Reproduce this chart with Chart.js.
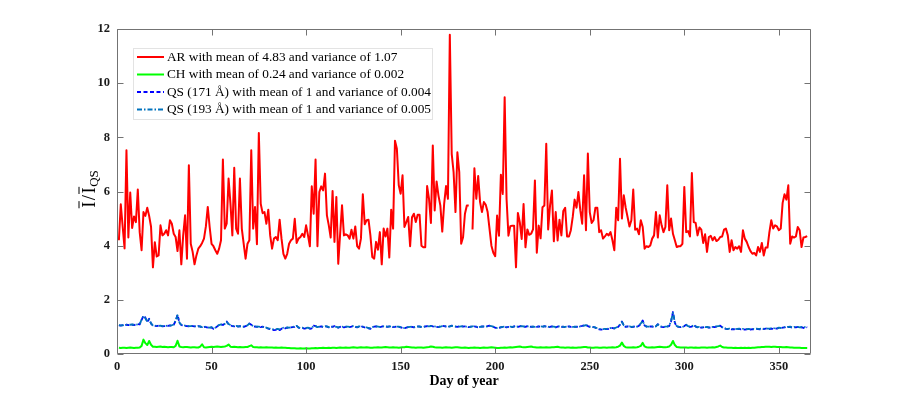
<!DOCTYPE html>
<html>
<head>
<meta charset="utf-8">
<script src="https://cdn.jsdelivr.net/npm/chart.js@4/dist/chart.umd.min.js"></script>
<style>
  html, body { margin: 0; padding: 0; background: #ffffff; }
  canvas { display: block; }
</style>
</head>
<body>
<canvas id="c" width="897" height="397"></canvas>
<script>
// ---------------- DATA ----------------
const seriesLabels = [
  'AR with mean of 4.83 and variance of 1.07',
  'CH with mean of 0.24 and variance of 0.002',
  'QS (171 \u00C5) with mean of 1 and variance of 0.004',
  'QS (193 \u00C5) with mean of 1 and variance of 0.005'
];
const xTickValues = [0, 50, 100, 150, 200, 250, 300, 350];
const yTickValues = [0, 2, 4, 6, 8, 10, 12];
const xAxisTitle = 'Day of year';

const arValues = [
  4.2, 5.53, 4.7, 3.9, 7.52, 4.3, 5.96, 4.65, 5.08, 4.87,
  6.07, 4.5, 3.83, 5.24, 5.1, 5.4, 5.1, 4.7, 3.2, 4.13,
  3.6, 3.64, 4.75, 4.38, 4.44, 4.57, 4.38, 4.94, 4.81, 4.44,
  4.32, 3.8, 4.57, 3.31, 4.38, 5.12, 3.52, 6.97, 4.07, 3.77,
  3.31, 3.64, 3.89, 3.98, 4.1, 4.26, 4.71, 5.43, 4.69, 4.07,
  3.98, 3.83, 3.7, 3.89, 4.2, 7.18, 4.63, 4.81, 6.48, 5.55,
  4.38, 6.88, 4.63, 4.44, 6.48, 4.63, 4.07, 3.52, 4.07, 4.2,
  7.52, 4.63, 5.43, 4.05, 8.16, 5.55, 5.2, 5.24,
  4.81, 5.33, 4.38, 3.89, 4.26, 4.32, 4.2, 4.96, 4.26, 3.7,
  3.52, 3.7, 4.07, 4.2, 4.26, 4.99, 4.1, 4.26, 4.32, 4.44,
  4.32, 4.75, 4.38, 3.98, 6.19, 5.18, 7.18, 3.98, 5.98, 6.19,
  6.04, 6.66, 5.12, 4.75, 4.3, 6.02, 4.14, 5.8, 3.33, 4.44,
  5.49, 4.38, 4.42, 4.38, 4.26, 4.59, 4.26, 4.71, 3.98, 3.89,
  4.26, 5.9, 4.79, 4.94, 4.96, 4.38, 3.58, 3.52, 4.14, 3.85,
  4.5, 3.31, 4.63, 4.34, 4.63, 3.56, 5.33, 4.63, 7.87, 7.58,
  6.23, 5.92, 6.6, 4.69, 4.87, 5.06,
  3.98, 5.05, 5.18, 4.87, 5.14, 5.14, 4.0, 3.94, 3.94, 6.2,
  5.73, 4.84, 7.7, 5.3, 6.37, 5.85, 5.48, 4.52, 5.54, 6.2,
  5.73, 11.79, 7.39, 6.71, 5.24, 7.45, 6.71, 4.07, 4.31, 5.18,
  5.48, 5.48, null, 4.6, 6.86, 5.73, 6.57, 5.61, 5.24, 5.61,
  5.51, 5.24, 4.62, 4.0, 3.74, 3.61, 5.11, 4.37, 6.62, 5.91,
  9.48, 5.73, 4.37, 4.72, 4.74, 4.74, 3.2, 5.21, 4.87, 4.25,
  5.54, 3.94, 4.6, 4.4, 4.44, 4.6, 6.41, 3.74, 4.74, 4.27,
  5.42, 5.48, 7.76, 4.6, 5.48, 6.04, 4.16, 5.24, 4.19,
  4.96, 4.38, 5.28, 5.4, 4.34, 4.34, 4.57, 5.06, 5.7, 5.4,
  5.98, 5.31, 4.81, 6.6, 4.57, 7.4, 5.24, 4.84, 4.94, 5.4,
  5.4, 4.5, 4.57, 4.26, 4.34, 4.44, 4.38, 4.5, 4.2, 3.83,
  5.4, 4.94, 7.21, 5.0, 5.86, 5.4, 5.06, 4.71, 4.94, 6.07,
  4.59, 4.63, 4.42, 4.94, 4.69, 3.89, 3.98, 3.95, 4.01, 4.26,
  4.38, 5.24, 4.3, 5.12, 4.75, 4.5, 4.69, 6.23, 4.57, 5.0,
  4.44, 4.2, 3.95, 3.98, 3.98, 4.07, 6.17, 4.5, 4.54, 4.34,
  6.68, 4.87, 4.84, 4.38, 4.67, 4.59, 4.1, 4.42, 3.77,
  4.32, 4.36, 4.2, 4.32, 4.17, 4.22, 4.32, 4.34, 4.59, 4.63,
  4.38, 3.77, 4.2, 3.83, 3.95, 3.89, 3.98, 3.77, 4.57, 4.26,
  4.14, 3.95, 3.8, 3.7, 3.73, 3.64, 3.95, 3.77, 4.1, 3.64,
  3.93, 3.93, 4.5, 4.94, 4.63, 4.75, 4.71, 4.57, 4.63, 5.58,
  5.9, 5.7, 6.23, 4.07, 4.34, 4.3, 4.34, 4.69, 4.57, 3.95,
  4.3, 4.32, 4.35
];

const chValues = [
  0.23,0.22,0.23,0.23,0.22,0.23,0.24,0.23,0.22,0.23,
  0.23,0.24,0.30,0.53,0.40,0.33,0.48,0.34,0.27,0.27,
  0.26,0.27,0.28,0.26,0.27,0.26,0.25,0.26,0.26,0.25,
  0.30,0.49,0.28,0.26,0.25,0.26,0.26,0.25,0.24,0.25,
  0.25,0.24,0.24,0.27,0.36,0.25,0.24,0.25,0.26,0.27,
  0.26,0.27,0.28,0.27,0.26,0.27,0.28,0.30,0.35,0.27,
  0.26,0.27,0.26,0.25,0.26,0.25,0.25,0.26,0.26,0.29,
  0.32,0.26,0.25,0.25,0.24,0.25,0.24,0.24,0.25,0.24,
  0.24,0.24,0.23,0.24,0.23,0.23,0.24,0.23,0.23,0.22,
  0.22,0.21,0.21,0.21,0.20,0.20,0.21,0.20,0.20,0.21,
  0.20,0.20,0.21,0.21,0.22,0.21,0.22,0.22,0.23,0.22,
  0.22,0.23,0.22,0.23,0.23,0.22,0.23,0.24,0.23,0.23,
  0.24,0.23,0.23,0.24,0.25,0.24,0.23,0.24,0.25,0.24,
  0.24,0.25,0.24,0.23,0.23,0.24,0.24,0.25,0.24,0.24,
  0.25,0.26,0.25,0.24,0.24,0.25,0.24,0.24,0.23,0.24,
  0.25,0.25,0.27,0.26,0.25,0.24,0.24,0.23,0.24,0.24,
  0.24,0.23,0.24,0.25,0.26,0.28,0.27,0.25,0.24,0.24,
  0.24,0.23,0.24,0.25,0.24,0.24,0.23,0.24,0.25,0.25,
  0.24,0.23,0.23,0.24,0.23,0.22,0.23,0.23,0.24,0.23,
  0.23,0.22,0.23,0.24,0.23,0.23,0.24,0.25,0.24,0.23,
  0.22,0.22,0.23,0.23,0.24,0.23,0.24,0.25,0.24,0.25,
  0.26,0.27,0.28,0.26,0.25,0.25,0.26,0.27,0.28,0.26,
  0.25,0.24,0.24,0.25,0.24,0.24,0.25,0.24,0.24,0.25,
  0.25,0.26,0.27,0.25,0.24,0.24,0.23,0.24,0.24,0.23,
  0.24,0.23,0.23,0.24,0.24,0.25,0.26,0.26,0.24,0.24,
  0.23,0.23,0.24,0.24,0.23,0.23,0.24,0.24,0.23,0.24,
  0.24,0.25,0.24,0.25,0.27,0.31,0.42,0.30,0.25,0.24,
  0.24,0.24,0.25,0.24,0.25,0.27,0.30,0.41,0.28,0.25,
  0.24,0.24,0.25,0.24,0.25,0.26,0.27,0.26,0.25,0.25,
  0.26,0.28,0.34,0.48,0.33,0.26,0.25,0.24,0.24,0.24,
  0.24,0.23,0.24,0.24,0.23,0.24,0.23,0.23,0.24,0.24,
  0.24,0.23,0.24,0.24,0.25,0.24,0.26,0.28,0.31,0.26,
  0.24,0.24,0.23,0.23,0.23,0.22,0.23,0.22,0.22,0.23,
  0.22,0.23,0.22,0.23,0.22,0.23,0.23,0.24,0.25,0.25,
  0.26,0.26,0.27,0.27,0.27,0.26,0.27,0.27,0.26,0.26,
  0.26,0.25,0.25,0.26,0.25,0.24,0.24,0.23,0.23,0.23,
  0.23,0.22,0.22,0.22,0.22
];

const qs171Values = [
  1.06,1.05,1.07,1.06,1.08,1.07,1.09,1.08,1.07,1.09,
  1.10,1.09,1.25,1.42,1.34,1.18,1.30,1.12,1.05,1.04,
  1.03,1.05,1.04,1.02,1.03,1.05,1.04,1.06,1.05,1.08,
  1.22,1.45,1.15,1.07,1.05,1.04,1.03,1.02,1.04,1.03,
  1.02,1.00,1.03,1.01,0.98,1.00,0.99,0.97,0.96,0.98,
  0.93,0.96,1.02,1.08,1.10,1.07,1.12,1.20,1.10,1.06,
  1.03,1.02,1.05,1.01,1.03,1.02,1.00,1.03,1.05,1.13,
  1.08,1.02,1.01,1.00,1.02,0.99,1.01,0.98,0.96,0.94,
  0.92,0.90,0.88,0.89,0.91,0.88,0.93,0.97,0.95,0.97,
  0.96,0.98,0.99,1.00,1.05,0.97,0.95,0.96,0.94,0.95,
  0.97,0.93,0.95,1.05,1.03,0.98,1.00,1.02,0.99,1.03,
  1.01,0.98,1.02,1.00,1.03,0.99,0.97,1.00,1.02,0.98,
  1.00,1.02,0.99,1.01,1.04,1.00,0.98,1.01,1.03,1.00,
  0.98,0.97,0.95,0.93,0.99,1.01,1.02,1.00,0.99,1.01,
  1.03,1.01,1.00,1.02,1.01,0.99,1.00,1.02,1.00,0.98,
  0.96,0.95,0.97,0.99,1.01,1.00,0.98,1.00,1.02,1.01,
  0.99,1.00,1.02,1.03,1.01,1.04,1.02,1.01,1.00,0.99,
  1.02,1.04,1.03,1.01,1.00,1.02,1.05,1.03,1.01,1.00,
  1.02,1.03,1.01,1.02,1.00,0.99,1.01,1.03,1.02,1.00,
  0.98,1.00,1.02,1.01,1.00,1.03,1.05,1.02,1.00,0.97,
  0.95,0.96,0.98,1.00,1.02,0.98,1.00,1.01,0.99,1.02,
  1.03,1.00,1.02,1.04,1.01,1.00,1.03,1.02,1.00,1.01,
  0.99,1.00,1.02,1.01,1.00,1.03,1.01,0.99,1.00,1.02,
  1.00,0.98,1.01,1.02,1.00,1.01,0.99,1.00,1.02,1.00,
  0.99,1.01,1.00,1.02,1.03,1.04,1.06,1.08,1.03,1.00,
  1.01,0.99,0.97,0.93,0.91,0.90,0.91,0.92,0.92,0.93,
  0.95,0.96,0.94,0.97,1.00,1.08,1.20,1.05,1.00,1.02,
  1.01,0.99,1.00,1.02,1.00,1.04,1.12,1.24,1.05,1.01,
  1.00,1.02,1.01,1.00,1.03,1.10,1.02,1.00,0.99,1.00,
  1.01,1.03,1.20,1.55,1.15,1.02,1.00,0.99,1.01,1.03,
  1.08,1.02,1.00,1.01,1.08,1.01,0.98,0.99,0.97,0.98,
  1.00,0.99,0.97,0.98,1.00,0.99,1.01,1.03,1.05,0.98,
  0.95,0.93,0.92,0.93,0.91,0.92,0.90,0.92,0.93,0.91,
  0.92,0.90,0.91,0.92,0.90,0.92,0.91,0.93,0.92,0.91,
  0.93,0.92,0.94,0.93,0.92,0.94,0.93,0.95,0.94,0.96,
  0.95,0.97,0.98,1.00,0.99,1.00,0.97,0.99,0.98,1.00,
  0.97,0.99,0.96,1.00,0.98
];

const qs193Values = [
  1.07,1.06,1.06,1.07,1.08,1.08,1.08,1.09,1.08,1.08,
  1.09,1.10,1.27,1.40,1.32,1.20,1.28,1.13,1.06,1.05,
  1.04,1.04,1.05,1.03,1.04,1.04,1.05,1.05,1.06,1.09,
  1.24,1.43,1.16,1.08,1.06,1.05,1.04,1.03,1.03,1.04,
  1.03,1.01,1.02,1.02,0.99,1.01,1.00,0.98,0.97,0.99,
  0.95,0.97,1.03,1.07,1.09,1.08,1.11,1.18,1.11,1.07,
  1.04,1.03,1.04,1.02,1.02,1.03,1.01,1.02,1.06,1.12,
  1.07,1.03,1.02,1.01,1.01,1.00,1.00,0.99,0.97,0.95,
  0.94,0.92,0.91,0.92,0.93,0.91,0.94,0.97,0.96,0.98,
  0.97,0.98,1.00,1.01,1.04,0.98,0.96,0.97,0.95,0.96,
  0.97,0.95,0.96,1.04,1.03,0.99,1.01,1.02,1.00,1.02,
  1.02,0.99,1.01,1.01,1.02,1.00,0.98,1.01,1.01,0.99,
  1.01,1.01,1.00,1.02,1.03,1.01,0.99,1.02,1.02,1.01,
  0.99,0.98,0.96,0.95,0.99,1.00,1.02,1.01,1.00,1.01,
  1.02,1.02,1.01,1.01,1.02,1.00,1.01,1.01,1.01,0.99,
  0.97,0.96,0.98,0.99,1.00,1.01,0.99,1.01,1.01,1.02,
  1.00,1.01,1.01,1.03,1.02,1.03,1.03,1.02,1.01,1.00,
  1.01,1.03,1.04,1.02,1.01,1.02,1.04,1.03,1.02,1.01,
  1.01,1.02,1.02,1.01,1.01,1.00,1.00,1.02,1.03,1.01,
  0.99,1.00,1.01,1.02,1.01,1.02,1.04,1.03,1.01,0.98,
  0.96,0.97,0.99,1.00,1.01,0.99,1.01,1.01,1.00,1.01,
  1.02,1.01,1.02,1.03,1.02,1.01,1.02,1.02,1.01,1.01,
  1.00,1.01,1.01,1.02,1.01,1.02,1.02,1.00,1.01,1.01,
  1.01,0.99,1.00,1.02,1.01,1.00,1.00,1.01,1.01,1.01,
  1.00,1.00,1.01,1.01,1.02,1.04,1.05,1.07,1.04,1.01,
  1.00,0.99,0.98,0.95,0.93,0.92,0.92,0.93,0.93,0.94,
  0.96,0.96,0.95,0.98,1.01,1.09,1.18,1.06,1.01,1.01,
  1.02,1.00,1.01,1.01,1.01,1.05,1.13,1.22,1.06,1.02,
  1.01,1.01,1.02,1.01,1.02,1.09,1.03,1.01,1.00,1.01,
  1.02,1.04,1.22,1.52,1.17,1.03,1.01,1.00,1.00,1.02,
  1.07,1.03,1.01,1.02,1.07,1.02,0.99,1.00,0.98,0.99,
  0.99,1.00,0.98,0.99,1.00,1.00,1.02,1.03,1.04,0.99,
  0.96,0.94,0.93,0.94,0.93,0.93,0.92,0.93,0.94,0.92,
  0.93,0.92,0.92,0.93,0.92,0.93,0.92,0.94,0.93,0.93,
  0.94,0.93,0.95,0.94,0.94,0.95,0.94,0.96,0.95,0.97,
  0.96,0.97,0.99,1.00,1.00,1.01,0.98,1.00,0.99,1.00,
  0.98,0.99,0.97,1.00,0.99
];

// day numbers for each sample (1..365)
const days = arValues.map((_, i) => i + 1);

// ---------------- CHART ----------------
const SERIF = '"Liberation Serif", "Times New Roman", serif';
const toPoints = (vals) => vals.map((v, i) => ({ x: days[i], y: v }));

const matlabAxes = {
  id: 'matlabAxes',
  afterDatasetsDraw(chart) {
    const ctx = chart.ctx;
    const a = chart.chartArea;
    const xs = chart.scales.x, ys = chart.scales.y;
    const L = Math.round(a.left) + 0.5, R = Math.round(a.right) - 0.5;
    const T = Math.round(a.top) + 0.5, B = Math.round(a.bottom) - 0.5;
    ctx.save();
    ctx.strokeStyle = '#737373';
    ctx.lineWidth = 1;
    ctx.beginPath();
    ctx.rect(L, T, R - L, B - T);
    ctx.stroke();
    const tl = 6;
    ctx.beginPath();
    xTickValues.forEach(v => {
      const px = Math.round(xs.getPixelForValue(v)) + 0.5;
      ctx.moveTo(px, B); ctx.lineTo(px, B - tl);
      ctx.moveTo(px, T); ctx.lineTo(px, T + tl);
    });
    yTickValues.forEach(v => {
      const py = Math.round(ys.getPixelForValue(v)) + 0.5;
      ctx.moveTo(L, py); ctx.lineTo(L + tl, py);
      ctx.moveTo(R, py); ctx.lineTo(R - tl, py);
    });
    ctx.stroke();
    ctx.restore();
  },
  afterDraw(chart) {
    const ctx = chart.ctx;
    const a = chart.chartArea;
    ctx.save();
    // ---- legend ----
    const bx = 133.5, by = 48.5, bw = 299, bh = 71;
    ctx.fillStyle = '#ffffff';
    ctx.fillRect(bx, by, bw, bh);
    ctx.strokeStyle = '#e3e3e3';
    ctx.lineWidth = 1;
    ctx.strokeRect(bx, by, bw, bh);
    const rowY = [57, 74.5, 92, 109.5];
    ctx.font = '13.3px ' + SERIF;
    ctx.textBaseline = 'middle';
    ctx.textAlign = 'left';
    chart.data.datasets.forEach((ds, i) => {
      const y = rowY[i];
      ctx.save();
      ctx.strokeStyle = ds.borderColor;
      ctx.lineWidth = ds.borderWidth;
      ctx.setLineDash(ds.borderDash || []);
      ctx.beginPath();
      ctx.moveTo(137, y);
      ctx.lineTo(164, y);
      ctx.stroke();
      ctx.restore();
      ctx.fillStyle = '#000000';
      ctx.fillText(ds.label, 167, y + 0.5);
    });
    // ---- x title ----
    ctx.font = 'bold 14px ' + SERIF;
    ctx.fillStyle = '#000000';
    ctx.textAlign = 'center';
    ctx.textBaseline = 'middle';
    ctx.fillText(xAxisTitle, (a.left + a.right) / 2, 381);
    // ---- y title:  Ī / Ī_QS ----
    ctx.translate(88, 189);
    ctx.rotate(-Math.PI / 2);
    const fBig = '18.5px ' + SERIF, fSmall = '13px ' + SERIF;
    ctx.font = fBig;
    const wI = ctx.measureText('I').width;
    const wSl = ctx.measureText('/').width;
    ctx.font = fSmall;
    const wQS = ctx.measureText('QS').width;
    const total = wI + 1.5 + wSl + 1.5 + wI + 0.5 + wQS;
    let x0 = -total / 2;
    const base = 6.5;
    ctx.textAlign = 'left';
    ctx.textBaseline = 'alphabetic';
    ctx.fillStyle = '#000000';
    ctx.strokeStyle = '#000000';
    ctx.lineWidth = 1;
    ctx.font = fBig;
    const drawBarI = (x) => {
      ctx.fillText('I', x, base);
      ctx.beginPath();
      ctx.moveTo(x - 0.5, base - 15.5);
      ctx.lineTo(x + wI + 0.5, base - 15.5);
      ctx.stroke();
    };
    drawBarI(x0);
    x0 += wI + 1.5;
    ctx.fillText('/', x0, base);
    x0 += wSl + 1.5;
    drawBarI(x0);
    x0 += wI + 0.5;
    ctx.font = fSmall;
    ctx.fillText('QS', x0, base + 3.5);
    ctx.restore();
  }
};

new Chart(document.getElementById('c').getContext('2d'), {
  type: 'line',
  data: {
    datasets: [
      { label: seriesLabels[0], data: toPoints(arValues), borderColor: '#ff0000', borderWidth: 2, order: 3 },
      { label: seriesLabels[1], data: toPoints(chValues), borderColor: '#00ff00', borderWidth: 2, order: 2 },
      { label: seriesLabels[2], data: toPoints(qs171Values), borderColor: '#0000ff', borderWidth: 1.8, borderDash: [4, 2.5], order: 1 },
      { label: seriesLabels[3], data: toPoints(qs193Values), borderColor: '#0072bd', borderWidth: 1.8, borderDash: [5, 2, 1.5, 2], order: 0 }
    ]
  },
  options: {
    responsive: false,
    animation: false,
    devicePixelRatio: 1,
    spanGaps: false,
    layout: { padding: { left: 0, right: 86, top: 29, bottom: 0 } },
    elements: {
      point: { radius: 0, hoverRadius: 0 },
      line: { tension: 0, borderJoinStyle: 'round', fill: false }
    },
    plugins: { legend: { display: false }, tooltip: { enabled: false } },
    scales: {
      x: {
        type: 'linear',
        min: 0, max: 367,
        afterFit(s) { s.height = 43; },
        afterBuildTicks(s) { s.ticks = xTickValues.map(v => ({ value: v })); },
        grid: { display: false, drawTicks: false },
        border: { display: false },
        ticks: {
          padding: 5, maxRotation: 0, autoSkip: false,
          color: '#1a1a1a',
          font: { family: SERIF, weight: 'bold', size: 12.5 }
        }
      },
      y: {
        type: 'linear',
        min: 0, max: 12,
        afterFit(s) { s.width = 117; },
        afterBuildTicks(s) { s.ticks = yTickValues.map(v => ({ value: v })); },
        grid: { display: false, drawTicks: false },
        border: { display: false },
        ticks: {
          padding: 7,
          color: '#1a1a1a',
          font: { family: SERIF, weight: 'bold', size: 12.5 }
        }
      }
    }
  },
  plugins: [matlabAxes]
});
</script>
</body>
</html>
